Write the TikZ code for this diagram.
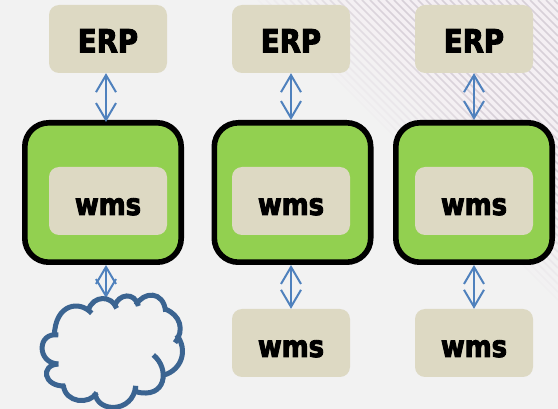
\documentclass[tikz,border=0pt]{standalone}
\usepackage{fontspec}
\setmainfont{DejaVu Sans}[FakeStretch=0.86,BoldFeatures={FakeBold=3}]
\usetikzlibrary{arrows.meta}
\definecolor{bgc}{HTML}{F2F2F2}
\definecolor{beige}{HTML}{DDD9C3}
\definecolor{leaf}{HTML}{92D050}
\definecolor{arrowc}{HTML}{4F81BD}
\definecolor{cloudc}{HTML}{3B6491}
\definecolor{stripe}{HTML}{CFC6D0}
\definecolor{blush}{HTML}{F6EFF4}
\newcommand{\erptext}{\smash{\raisebox{-13.5pt}{ERP}}}
\newcommand{\wmstext}{\smash{\raisebox{-14pt}{wms}}}
\tikzset{
 x=1pt,y=-1pt,
 beigebox/.style={fill=beige,rounded corners=10pt,minimum width=118pt,minimum height=68pt,inner sep=0pt,anchor=center,text=black,font=\fontsize{32}{32}\bfseries},
 wmsbox/.style={beigebox,font=\fontsize{30}{30}\bfseries},
 greenbox/.style={fill=leaf,draw=black,line width=5.6pt,rounded corners=24pt,minimum width=156.4pt,minimum height=139.4pt,inner sep=0pt,anchor=center},
 link/.style={draw=arrowc,line width=2pt,{Straight Barb[length=17pt,width=20pt,line width=2pt]}-{Straight Barb[length=17pt,width=20pt,line width=2pt]}},
 cloudline/.style={draw=cloudc,line width=5pt},
}
\begin{document}
\begin{tikzpicture}
\useasboundingbox (0,0) rectangle (558,409);
\fill[bgc] (0,0) rectangle (558,409);
\begin{scope}
\clip (0,0) rectangle (558,409);
\foreach \a in {250,258,...,560}{
 \pgfmathsetmacro{\p}{0.75*min(1,max(0,(\a-250)/130))}
 \draw[blush,line width=5pt,opacity=\p] (\a+4,0) -- (558,554-\a);
 \draw[stripe,line width=1.6pt,opacity=\p] (\a,0) -- (558,558-\a);
}
\end{scope}
\node[beigebox] (e1) at (108,39) {\erptext};
\node[beigebox] (e2) at (291,39) {\erptext};
\node[beigebox] (e3) at (474,39) {\erptext};
\node[greenbox] (g1) at (103,192.5) {};
\node[greenbox] (g2) at (292.5,192.5) {};
\node[greenbox] (g3) at (474,192.5) {};
\node[wmsbox] (w1) at (108,201) {\wmstext};
\node[wmsbox] (w2) at (291,201) {\wmstext};
\node[wmsbox] (w3) at (474,201) {\wmstext};
\node[wmsbox] (b2) at (291,343) {\wmstext};
\node[wmsbox] (b3) at (474,343) {\wmstext};
\coordinate (ctop) at (106,298);
\draw[link,shorten >=-2pt] ([xshift=-2pt]e1.south) -- ([xshift=3pt]g1.north);
\draw[link] (g1.south -| ctop) -- (ctop);
\draw[link] (e2.south) -- (g2.north -| e2.south);
\draw[link] (g2.south -| b2.north) -- (b2.north);
\draw[link] (e3.south) -- (g3.north);
\draw[link] (g3.south) -- (b3.north);
\begin{scope}[shift={(0,250)},xscale=1/3,yscale=1/3]
\draw[cloudline] (163,258) .. controls (165,160) and (240,150) .. (275,190);
\draw[cloudline] (265,180) .. controls (280,135) and (335,135) .. (350,175);
\draw[cloudline] (343,170) .. controls (355,130) and (405,125) .. (415,168);
\draw[cloudline] (408,165) .. controls (430,125) and (490,120) .. (497,185);
\draw[cloudline] (497,178) .. controls (540,195) and (555,240) .. (525,278);
\draw[cloudline] (530,255) .. controls (565,300) and (545,360) .. (492,375);
\draw[cloudline] (460,315) .. controls (510,355) and (500,450) .. (407,425) -- (407,408);
\draw[cloudline] (407,408) .. controls (400,490) and (290,490) .. (285,428);
\draw[cloudline] (290,428) .. controls (270,465) and (195,460) .. (190,405);
\draw[cloudline] (195,408) .. controls (130,410) and (120,345) .. (175,342);
\draw[cloudline] (175,342) .. controls (110,340) and (110,245) .. (175,255);
\end{scope}
\end{tikzpicture}
\end{document}
